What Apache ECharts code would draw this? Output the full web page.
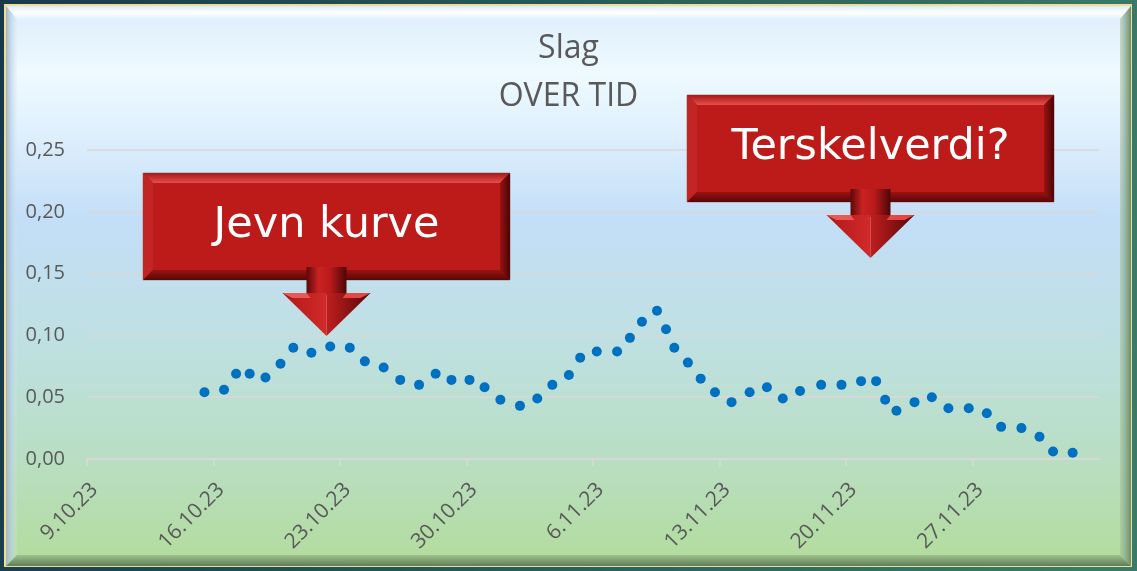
<!DOCTYPE html>
<html>
<head>
<meta charset="utf-8">
<script src="https://cdn.jsdelivr.net/npm/echarts@6/dist/echarts.min.js"></script>
<style>
  html, body { margin: 0; padding: 0; background: #1b3d4b; }
  #main { width: 1137px; height: 571px; }
</style>
</head>
<body>
<div id="main"></div>
<script>
// målepunkter (dato + klokkeslett) og verdier
var dates = [
  '2023-10-15 12:00', '2023-10-16 14:00', '2023-10-17 06:00', '2023-10-18 00:00', '2023-10-18 21:00',
  '2023-10-19 17:00', '2023-10-20 10:00', '2023-10-21 10:00', '2023-10-22 11:00', '2023-10-23 13:00',
  '2023-10-24 09:00', '2023-10-25 10:00', '2023-10-26 08:00', '2023-10-27 09:00', '2023-10-28 07:00',
  '2023-10-29 04:00', '2023-10-30 04:00', '2023-10-31 00:00', '2023-10-31 21:00', '2023-11-01 23:00',
  '2023-11-02 22:00', '2023-11-03 18:00', '2023-11-04 16:00', '2023-11-05 07:00', '2023-11-06 05:00',
  '2023-11-07 08:00', '2023-11-08 01:00', '2023-11-08 17:00', '2023-11-09 13:00', '2023-11-10 01:00',
  '2023-11-10 12:00', '2023-11-11 06:00', '2023-11-11 23:00', '2023-11-12 18:00', '2023-11-13 16:00',
  '2023-11-14 16:00', '2023-11-15 15:00', '2023-11-16 12:00', '2023-11-17 11:00', '2023-11-18 15:00',
  '2023-11-19 18:00', '2023-11-20 20:00', '2023-11-21 16:00', '2023-11-22 04:00', '2023-11-22 19:00',
  '2023-11-23 19:00', '2023-11-24 18:00', '2023-11-25 16:00', '2023-11-26 19:00', '2023-11-27 19:00',
  '2023-11-28 14:00', '2023-11-29 17:00', '2023-11-30 17:00', '2023-12-01 11:00', '2023-12-02 13:00'
];
var slag = [
  0.054, 0.056, 0.069, 0.069, 0.066,
  0.077, 0.090, 0.086, 0.091, 0.090,
  0.079, 0.074, 0.064, 0.060, 0.069,
  0.064, 0.064, 0.058, 0.048, 0.043,
  0.049, 0.060, 0.068, 0.082, 0.087,
  0.087, 0.098, 0.111, 0.120, 0.105,
  0.090, 0.078, 0.065, 0.054, 0.046,
  0.054, 0.058, 0.049, 0.055, 0.060,
  0.060, 0.063, 0.063, 0.048, 0.039,
  0.046, 0.050, 0.041, 0.041, 0.037,
  0.026, 0.025, 0.018, 0.006, 0.005
];
var startDate = '2023-10-09 00:00';
var tickLabels = ['9.10.23', '16.10.23', '23.10.23', '30.10.23', '6.11.23', '13.11.23', '20.11.23', '27.11.23', '4.12.23'];
var yTicks = [0, 0.05, 0.10, 0.15, 0.20, 0.25];
var callouts = ['Jevn kurve', 'Terskelverdi?'];

function toMs(s) { return Date.parse(s.replace(' ', 'T') + ':00Z'); }
var DAY = 86400000;
var t0 = toMs(startDate);
var points = dates.map(function (d, i) { return [(toMs(d) - t0) / DAY, slag[i]]; });

// rød boks med pil under
function callout(x, y, w, h, text) {
  var b = 10, cx = x + w / 2, bot = y + h;
  var els = [];
  els.push({ type: 'rect', z: 100, shape: { x: x, y: y, width: w, height: h },
    style: { fill: '#8b1010', stroke: '#a09a9a', lineWidth: 1 } });
  els.push({ type: 'polygon', z: 101, shape: { points: [[x, y], [x + w, y], [x + w - b, y + b], [x + b, y + b]] },
    style: { fill: new echarts.graphic.LinearGradient(0, 0, 0, 1, [{ offset: 0, color: '#a81818' }, { offset: 1, color: '#e4504c' }]) } });
  els.push({ type: 'polygon', z: 101, shape: { points: [[x, y], [x + b, y + b], [x + b, bot - b], [x, bot]] },
    style: { fill: '#c12624' } });
  els.push({ type: 'polygon', z: 101, shape: { points: [[x + w, y], [x + w, bot], [x + w - b, bot - b], [x + w - b, y + b]] },
    style: { fill: new echarts.graphic.LinearGradient(0, 0, 1, 0, [{ offset: 0, color: '#9a1212' }, { offset: 1, color: '#4a0505' }]) } });
  els.push({ type: 'polygon', z: 101, shape: { points: [[x, bot], [x + w, bot], [x + w - b, bot - b], [x + b, bot - b]] },
    style: { fill: new echarts.graphic.LinearGradient(0, 0, 0, 1, [{ offset: 0, color: '#9a1212' }, { offset: 1, color: '#5a0707' }]) } });
  els.push({ type: 'rect', z: 102, shape: { x: x + b, y: y + b, width: w - 2 * b, height: h - 2 * b },
    style: { fill: '#bc1b1a' } });
  // pil
  var st = bot - 13, ht = bot + 13, tip = bot + 56, sw = 20, hw = 44;
  els.push({ type: 'rect', z: 103, shape: { x: cx - sw, y: st, width: 2 * sw, height: ht - st + 2 },
    style: { fill: new echarts.graphic.LinearGradient(0, 0, 1, 0, [
      { offset: 0, color: '#5c0808' }, { offset: 0.3, color: '#c92222' }, { offset: 0.6, color: '#b81a1a' }, { offset: 1, color: '#4d0606' }]) } });
  els.push({ type: 'polygon', z: 104, shape: { points: [[cx - hw, ht], [cx, ht], [cx, tip]] },
    style: { fill: new echarts.graphic.LinearGradient(0, 0, 1, 0, [{ offset: 0, color: '#b01818' }, { offset: 1, color: '#d22a2a' }]) } });
  els.push({ type: 'polygon', z: 104, shape: { points: [[cx, ht], [cx + hw, ht], [cx, tip]] },
    style: { fill: new echarts.graphic.LinearGradient(0, 0, 1, 0, [{ offset: 0, color: '#c01e1e' }, { offset: 1, color: '#5a0707' }]) } });
  els.push({ type: 'polygon', z: 105, shape: { points: [[cx - hw, ht], [cx - sw, ht], [cx - sw + 4, ht + 5], [cx - hw + 10, ht + 5]] },
    style: { fill: '#e85a55' } });
  els.push({ type: 'polygon', z: 105, shape: { points: [[cx + sw, ht], [cx + hw, ht], [cx + hw - 10, ht + 5], [cx + sw - 4, ht + 5]] },
    style: { fill: '#e04a46' } });
  els.push({ type: 'text', z: 110, x: cx, y: y + h / 2 - 1,
    style: { text: text, fill: '#ffffff', fontSize: 43, fontWeight: 'normal', fontFamily: 'DejaVu Sans',
      align: 'center', verticalAlign: 'middle' } });
  return els;
}

// ramme og bakgrunn
var frame = [
  { type: 'rect', z: -20, shape: { x: 0, y: 0, width: 1137, height: 571 },
    style: { fill: new echarts.graphic.LinearGradient(0, 0, 1, 0.3, [{ offset: 0, color: '#173a4a' }, { offset: 1, color: '#3a7a68' }]) } },
  { type: 'rect', z: -19, shape: { x: 4, y: 4, width: 1128, height: 563 }, style: { fill: '#f2dc95' } },
  { type: 'rect', z: -18, shape: { x: 6, y: 6, width: 1125, height: 560 },
    style: { fill: new echarts.graphic.LinearGradient(0, 0, 0, 1, [
      { offset: 0, color: '#dcedfb' }, { offset: 0.12, color: '#eefaff' }, { offset: 0.22, color: '#e0f0fd' },
      { offset: 0.38, color: '#c3def7' }, { offset: 0.6, color: '#bfe0e2' }, { offset: 0.8, color: '#b9dec4' },
      { offset: 1, color: '#b3dc9c' }]) } },
  { type: 'polygon', z: -17, shape: { points: [[6, 6], [1131, 6], [1120, 19], [17, 19]] },
    style: { fill: new echarts.graphic.LinearGradient(0, 0, 0, 1, [{ offset: 0, color: '#d8ecfa' }, { offset: 0.5, color: '#ffffff' }, { offset: 1, color: '#e4f3fd' }]) } },
  { type: 'polygon', z: -17, shape: { points: [[6, 6], [17, 19], [17, 555], [6, 566]] },
    style: { fill: new echarts.graphic.LinearGradient(0, 0, 1, 0, [{ offset: 0, color: '#9fb6c9' }, { offset: 1, color: 'rgba(210,230,245,0.2)' }]) } },
  { type: 'polygon', z: -17, shape: { points: [[1131, 6], [1131, 566], [1120, 555], [1120, 19]] },
    style: { fill: new echarts.graphic.LinearGradient(0, 0, 1, 0, [{ offset: 0, color: 'rgba(160,190,160,0.5)' }, { offset: 1, color: '#6f8c68' }]) } },
  { type: 'polygon', z: -17, shape: { points: [[6, 566], [1131, 566], [1120, 555], [17, 555]] },
    style: { fill: new echarts.graphic.LinearGradient(0, 0, 0, 1, [{ offset: 0, color: '#9fc28c' }, { offset: 1, color: '#5f7d58' }]) } }
];

var myChart = echarts.init(document.getElementById('main'));
var option = {
  animation: false,
  backgroundColor: '#1b3d4b',
  title: {
    text: 'Slag\nOVER TID',
    left: 'center',
    top: 20,
    textStyle: { fontFamily: 'Open Sans', fontSize: 32, fontWeight: 'normal', color: '#595959', lineHeight: 48 }
  },
  grid: { left: 87, right: 38, top: 150, bottom: 112, outerBoundsMode: 'none' },
  xAxis: {
    type: 'value', min: 0, max: (tickLabels.length - 1) * 7, interval: 7,
    axisLine: { lineStyle: { color: '#d9d9d9', width: 1.5 } },
    axisTick: { show: true, length: 7, lineStyle: { color: '#d9d9d9', width: 1.5 } },
    splitLine: { show: false },
    axisLabel: {
      rotate: 45, margin: 20, color: '#595959', fontSize: 21, fontFamily: 'Open Sans',
      verticalAlign: 'top',
      showMaxLabel: false,
      formatter: function (v) { return tickLabels[Math.round(v / 7)] || ''; }
    }
  },
  yAxis: {
    type: 'value', min: yTicks[0], max: yTicks[yTicks.length - 1], interval: yTicks[1] - yTicks[0],
    axisLine: { show: false }, axisTick: { show: false },
    splitLine: { lineStyle: { color: '#d9d9d9', width: 1.5 } },
    axisLabel: {
      margin: 22, color: '#595959', fontSize: 20, fontFamily: 'Open Sans',
      formatter: function (v) { return v.toFixed(2).replace('.', ','); }
    }
  },
  series: [{
    type: 'scatter',
    data: points,
    symbol: 'circle',
    symbolSize: 10,
    itemStyle: { color: '#0070c0', opacity: 1 }
  }],
  graphic: frame
    .concat(callout(143, 173, 367, 107, callouts[0]))
    .concat(callout(687, 95, 367, 107, callouts[1]))
};
myChart.setOption(option);
window.onresize = function () { myChart.resize(); };
</script>
</body>
</html>
